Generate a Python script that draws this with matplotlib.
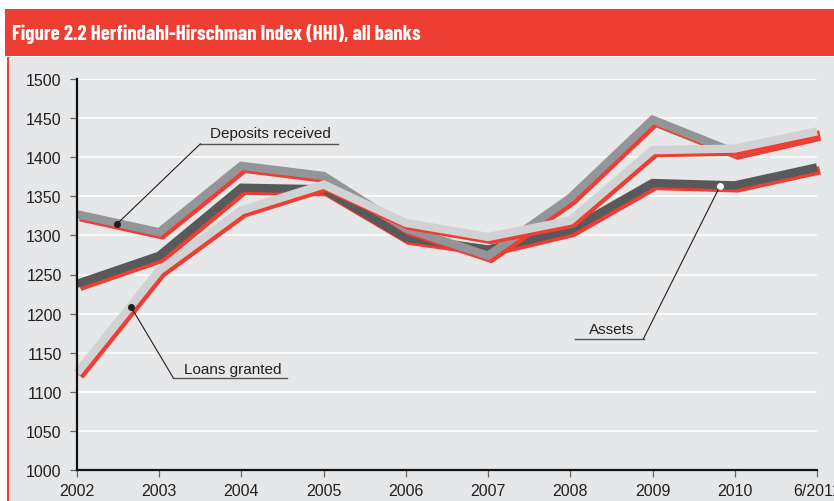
import matplotlib
matplotlib.use("Agg")
import matplotlib.pyplot as plt
import matplotlib.transforms as mtransforms
from matplotlib.patches import Rectangle

# ---- data ----
periods = ["2002", "2003", "2004", "2005", "2006", "2007", "2008", "2009", "2010", "6/2011"]
deposits = [1327, 1304, 1389, 1376, 1309, 1274, 1348, 1448, 1406, 1430]
assets = [1238, 1274, 1361, 1359, 1297, 1282, 1307, 1367, 1364, 1387]
loans = [1124, 1255, 1332, 1365, 1316, 1298, 1319, 1409, 1411, 1433]
y_ticks = [1000, 1050, 1100, 1150, 1200, 1250, 1300, 1350, 1400, 1450, 1500]

title = "Figure 2.2 Herfindahl-Hirschman Index (HHI), all banks"

RED = "#ee3e33"
BG = "#e6e7e8"
TXT = "#231f20"

fig = plt.figure(figsize=(8.34, 5.02), dpi=100)
fig.patch.set_facecolor("white")

# title band and panel
fig.patches.append(Rectangle((5/834, 1-57/502), 1, 47/502, transform=fig.transFigure,
                             facecolor=RED, edgecolor="none", zorder=0))
fig.patches.append(Rectangle((7/834, 0), 1, 1-58/502, transform=fig.transFigure,
                             facecolor=BG, edgecolor="none", zorder=0))
fig.patches.append(Rectangle((7/834, 0), 1.5/834, 1-58/502, transform=fig.transFigure,
                             facecolor=RED, edgecolor="none", zorder=1))
fig.text(12/834, 1-34/502, title, color="white", fontsize=15, fontweight="bold",
         family=["Barlow Condensed", "Archivo Narrow", "Liberation Sans", "DejaVu Sans"],
         va="center", ha="left")

ax = fig.add_axes([77/834, 1-471/502, (817-77)/834, (471-80)/502])
ax.set_zorder(5)
ax.patch.set_alpha(0)

x = list(range(len(periods)))
ax.set_xlim(0, len(periods)-1)
ax.set_ylim(1000, 1500)

for yv in y_ticks[1:]:
    ax.axhline(yv, color="white", lw=1.2, zorder=1)

shadow = mtransforms.offset_copy(ax.transData, fig=fig, x=3, y=-3, units="dots")
series = [(assets, "#58595b"), (deposits, "#939598"), (loans, "#d1d2d4")]
z = 3
for vals, col in series:
    ax.plot(x, vals, color=RED, lw=6.0, transform=shadow, solid_capstyle="butt",
            solid_joinstyle="miter", clip_on=False, zorder=z)
    ax.plot(x, vals, color=col, lw=6.0, solid_capstyle="butt",
            solid_joinstyle="miter", clip_on=False, zorder=z+1)
    z += 2

# annotations
ann_col = "#231f20"
def label(text, tx, ty, ux0, ux1, uy, lx, px, py, dot_face):
    ax.text(tx, ty, text, ha="center", va="center", fontsize=11, color=TXT,
            family=["Liberation Sans", "DejaVu Sans"], zorder=20)
    ax.plot([ux0, ux1], [uy, uy], color="#555555", lw=1.0, zorder=20)
    ax.plot([lx, px], [uy, py], color=ann_col, lw=0.8, zorder=20)
    ax.plot([px], [py], marker="o", ms=4, mfc=dot_face, mec=dot_face, zorder=21)

label("Deposits received", 2.35, 1431, 1.50, 3.18, 1417, 1.50, 0.49, 1315, "#231f20")
label("Loans granted", 1.90, 1129, 1.17, 2.55, 1118, 1.17, 0.66, 1208, "#231f20")
label("Assets", 6.50, 1180, 6.06, 6.89, 1168, 6.89, 7.82, 1363, "white")

ax.set_yticks(y_ticks)
ax.set_xticks(x)
ax.set_xticklabels(periods)
for sp in ["top", "right"]:
    ax.spines[sp].set_visible(False)
for sp in ["left", "bottom"]:
    ax.spines[sp].set_color("#111111")
    ax.spines[sp].set_linewidth(1.6)
    ax.spines[sp].set_zorder(30)
ax.tick_params(axis="both", length=5, width=0.9, color="#666666", labelsize=11.5,
               labelcolor=TXT)
ax.tick_params(axis="y", pad=6)
ax.tick_params(axis="x", pad=4)
for lab in ax.get_xticklabels() + ax.get_yticklabels():
    lab.set_family(["Liberation Sans", "DejaVu Sans"])

fig.savefig("out.png", dpi=100, facecolor=fig.get_facecolor())
